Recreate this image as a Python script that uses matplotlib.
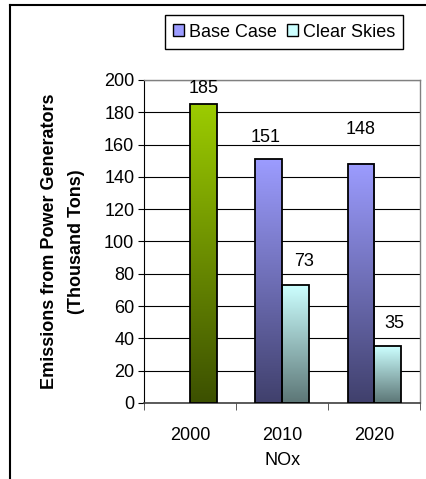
import numpy as np
import matplotlib
matplotlib.use("Agg")
import matplotlib.pyplot as plt
from matplotlib.patches import Rectangle
from matplotlib.colors import LinearSegmentedColormap

# Data
years = ["2000", "2010", "2020"]
base_case = [np.nan, 151, 148]
clear_skies = [185, 73, 35]
xlabel = "NOx"
ylabel = "Emissions from Power Generators\n(Thousand Tons)"

plt.rcParams['font.family'] = ['Liberation Sans', 'DejaVu Sans']
plt.rcParams['font.size'] = 13

fig = plt.figure(figsize=(4.26, 4.79), dpi=100)
ax = fig.add_axes([0.338, 0.1587, 0.649, 0.6743])

# gradient colour maps (bottom colour, top colour)
cm_base = LinearSegmentedColormap.from_list("b", ["#40406c", "#9c9cff"])
cm_clear = LinearSegmentedColormap.from_list("c", ["#5c7676", "#ccffff"])
cm_2000 = LinearSegmentedColormap.from_list("g", ["#3c5000", "#9ccc00"])

grad = np.linspace(0, 1, 256).reshape(-1, 1)
w = 0.29
x = np.arange(len(years))


def grad_bar(xc, h, cmap):
    ax.imshow(grad, cmap=cmap, origin='lower', aspect='auto',
              extent=[xc - w / 2, xc + w / 2, 0, h], zorder=2)
    ax.add_patch(Rectangle((xc - w / 2, 0), w, h, fill=False,
                           edgecolor='black', linewidth=1.3, zorder=3))


for i in x:
    if not np.isnan(base_case[i]):
        grad_bar(i - w / 2, base_case[i], cm_base)
    cmap = cm_2000 if i == 0 else cm_clear
    grad_bar(i + w / 2, clear_skies[i], cmap)

# value labels (pixel offsets from bar top centre)
label_pos = [
    (0 + w / 2, clear_skies[0], 0, 16),
    (1 - w / 2, base_case[1], -3, 22),
    (2 - w / 2, base_case[2], 0, 34),
    (1 + w / 2, clear_skies[1], 8, 24),
    (2 + w / 2, clear_skies[2], 7, 23),
]
for xp, v, dx, dy in label_pos:
    ax.annotate(f"{v:.0f}", (xp, v), xytext=(dx, dy), textcoords='offset pixels',
                ha='center', va='center', zorder=4)

ax.set_xlim(-0.5, 2.5)
ax.set_ylim(0, 200)
ax.set_yticks(np.arange(0, 201, 20))
ax.yaxis.grid(True, color='black', linewidth=0.8)
ax.set_axisbelow(True)

ax.set_xticks(x)
ax.set_xticklabels(years)
ax.set_xticks([-0.5, 0.5, 1.5, 2.5], minor=True)
ax.tick_params(axis='x', which='major', length=0, pad=17)
ax.tick_params(axis='x', which='minor', length=5, direction='out', color='#404040')
ax.tick_params(axis='y', length=4, direction='out', pad=3)

for s in ['top', 'right']:
    ax.spines[s].set_color('#808080')
    ax.spines[s].set_linewidth(1.0)
ax.spines['left'].set_color('black')
ax.spines['bottom'].set_color('#404040')
ax.spines['bottom'].set_linewidth(1.2)

ax.set_xlabel(xlabel, labelpad=6)
ax.set_ylabel(ylabel, fontweight='bold', linespacing=1.75, labelpad=14)

# legend
handles = [Rectangle((0, 0), 1, 1, facecolor="#9c9cff", edgecolor='black'),
           Rectangle((0, 0), 1, 1, facecolor="#ccffff", edgecolor='black')]
leg = fig.legend(handles, ["Base Case", "Clear Skies"], ncol=2,
                 loc='center', bbox_to_anchor=(0.667, 0.933),
                 fancybox=False, framealpha=1, edgecolor='black',
                 handlelength=0.6, handleheight=0.6, handletextpad=0.25,
                 columnspacing=0.6, borderpad=0.45, borderaxespad=0)
leg.get_frame().set_linewidth(1.0)

# outer chart border (left and top)
fig.add_artist(plt.Line2D([10 / 426, 10 / 426], [0, 1 - 5 / 479], color='black',
                          linewidth=1.5, transform=fig.transFigure))
fig.add_artist(plt.Line2D([10 / 426, 1], [1 - 5 / 479, 1 - 5 / 479], color='black',
                          linewidth=1.5, transform=fig.transFigure))

fig.savefig("out.png", dpi=100)
